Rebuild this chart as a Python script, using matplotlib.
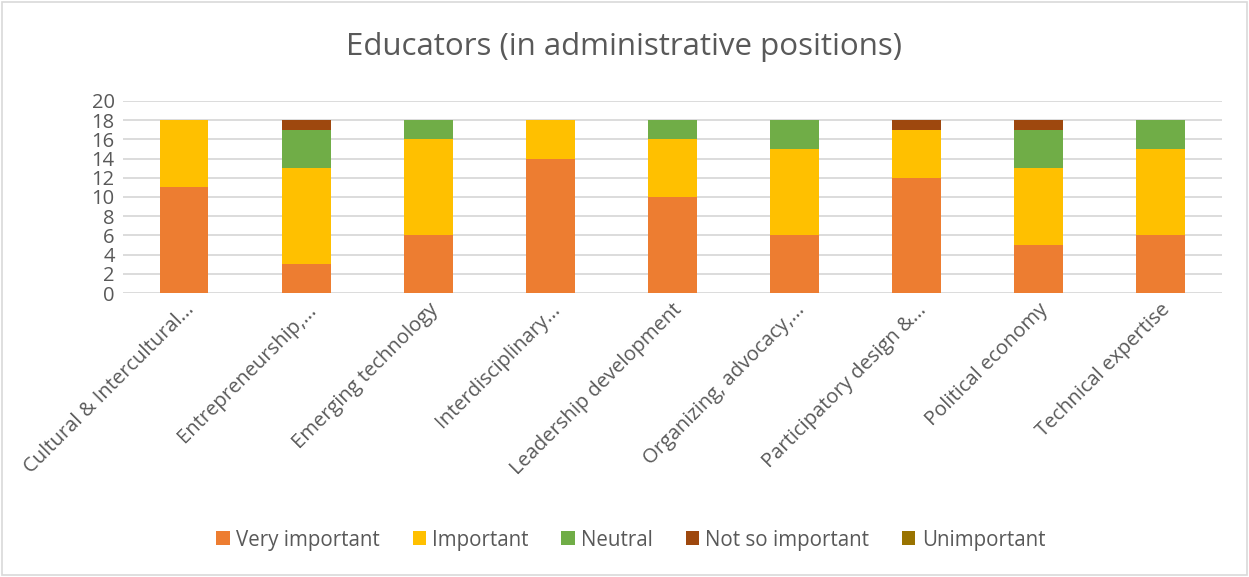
import numpy as np
import matplotlib
matplotlib.use("Agg")
from matplotlib import pyplot as plt
from matplotlib.patches import Rectangle

plt.rcParams['font.family'] = ['Open Sans', 'DejaVu Sans']

topics = ["Cultural & Intercultural...", "Entrepreneurship,...", "Emerging technology",
          "Interdisciplinary...", "Leadership development", "Organizing, advocacy,...",
          "Participatory design &...", "Political economy", "Technical expertise"]

very_important = [11, 3, 6, 14, 10, 6, 12, 5, 6]
important = [7, 10, 10, 4, 6, 9, 5, 8, 9]
neutral = [0, 4, 2, 0, 2, 3, 0, 4, 3]
not_so_important = [0, 1, 0, 0, 0, 0, 1, 1, 0]
unimportant = [0, 0, 0, 0, 0, 0, 0, 0, 0]

series = ["Very important", "Important", "Neutral", "Not so important", "Unimportant"]
colors = ["#ED7D31", "#FFC000", "#70AD47", "#9E480E", "#997300"]
txt = "#595959"

fig = plt.figure(figsize=(12.49, 5.77), dpi=100)
ax = fig.add_axes([0.0985, 0.4922, 0.8795, 0.3328])

x = np.arange(len(topics))
bottom = np.zeros(len(topics))
for name, vals, c in zip(series, [very_important, important, neutral, not_so_important, unimportant], colors):
    ax.bar(x, vals, 0.4, bottom=bottom, color=c, label=name, zorder=3)
    bottom += np.array(vals)

ax.set_xlim(-0.5, len(topics) - 0.5)
ax.set_ylim(0, 20)
ax.set_yticks(range(0, 21, 2))
ax.yaxis.grid(True, color="#d9d9d9", lw=1.3, zorder=0)
ax.set_axisbelow(True)
for s in ax.spines.values():
    s.set_visible(False)
ax.tick_params(length=0, colors=txt, labelsize=14.5)
ax.tick_params(axis='y', pad=6)
ax.tick_params(axis='x', pad=5)
ax.set_xticks(x)
ax.set_xticklabels(topics, rotation=45, ha='right', rotation_mode='anchor', fontsize=14.5, color=txt)

fig.text(0.5, 0.918, "Educators (in administrative positions)", ha='center', va='center',
         fontsize=22.5, color=txt)

fig.legend(loc='center', bbox_to_anchor=(0.505, 0.064), ncol=5, frameon=False,
           fontsize=14.8, handlelength=0.65, handleheight=0.65, handletextpad=0.3,
           columnspacing=1.6, labelcolor=txt)

fig.patches.append(Rectangle((0.002, 0.003), 0.996, 0.994, transform=fig.transFigure,
                             fill=False, edgecolor="#d9d9d9", lw=1.2))

fig.savefig("out.png", dpi=100)
